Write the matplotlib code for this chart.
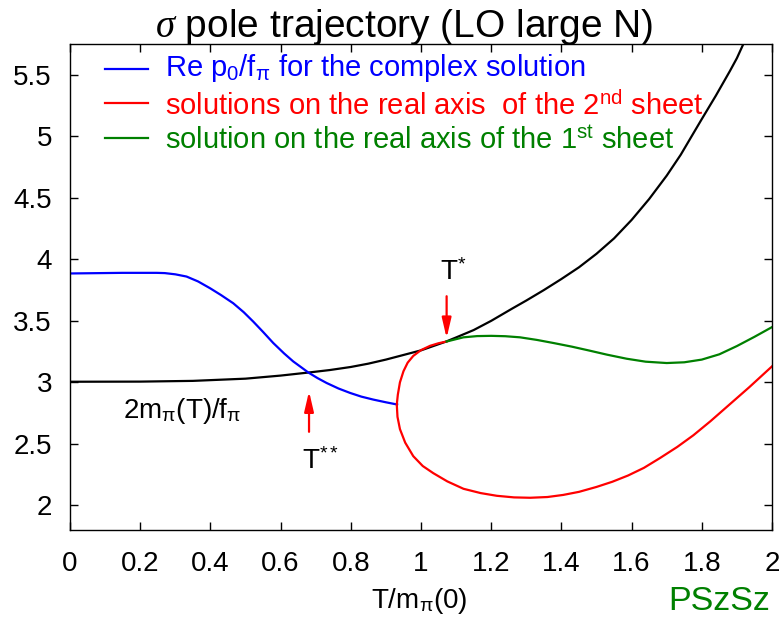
import matplotlib
matplotlib.use("Agg")
import matplotlib.pyplot as plt

# --- values ---
# 2 m_pi(T) / f_pi
t_black = [0.0, 0.2, 0.35, 0.5, 0.6, 0.68, 0.74, 0.8, 0.85, 0.9, 0.94, 1.0,
           1.03, 1.07, 1.1, 1.15, 1.2, 1.26, 1.3, 1.35, 1.4, 1.45, 1.5, 1.55,
           1.6, 1.65, 1.7, 1.74, 1.771, 1.8, 1.84, 1.88, 1.9, 1.92, 1.95]
v_black = [3.005, 3.006, 3.012, 3.03, 3.055, 3.08, 3.1, 3.125, 3.152, 3.185,
           3.215, 3.26, 3.29, 3.33, 3.365, 3.425, 3.5, 3.6, 3.665, 3.75,
           3.84, 3.935, 4.045, 4.17, 4.32, 4.49, 4.68, 4.85, 5.0, 5.14, 5.33,
           5.53, 5.635, 5.76, 5.95]

# Re p0/f_pi, complex solution
t_blue = [0.0, 0.15, 0.247, 0.27, 0.3, 0.332, 0.365, 0.399, 0.43, 0.465,
          0.495, 0.522, 0.55, 0.579, 0.61, 0.636, 0.66, 0.679, 0.705, 0.731,
          0.765, 0.798, 0.83, 0.864, 0.9, 0.932]
v_blue = [3.885, 3.89, 3.89, 3.888, 3.878, 3.86, 3.82, 3.765, 3.71, 3.643,
          3.57, 3.494, 3.41, 3.32, 3.235, 3.17, 3.12, 3.08, 3.035, 2.995,
          2.95, 2.914, 2.884, 2.86, 2.838, 2.82]

# real-axis solutions, 2nd sheet (loop traced from T* around)
t_red = [1.073, 1.05, 1.026, 1.0, 0.978, 0.962, 0.95, 0.94, 0.934, 0.931,
         0.933, 0.94, 0.955, 0.978, 1.005, 1.035, 1.075, 1.121, 1.17, 1.216,
         1.265, 1.311, 1.36, 1.405, 1.45, 1.5, 1.545, 1.59, 1.635, 1.681,
         1.73, 1.776, 1.825, 1.871, 1.935, 2.0]
v_red = [3.332, 3.318, 3.297, 3.262, 3.215, 3.16, 3.09, 3.0, 2.9, 2.82,
         2.72, 2.62, 2.51, 2.40, 2.32, 2.262, 2.195, 2.135, 2.1, 2.078,
         2.065, 2.062, 2.068, 2.085, 2.11, 2.15, 2.192, 2.243, 2.305, 2.385,
         2.475, 2.57, 2.685, 2.8, 2.96, 3.13]

# real-axis solution, 1st sheet
t_green = [1.073, 1.121, 1.16, 1.2, 1.24, 1.282, 1.33, 1.377, 1.43, 1.48,
           1.53, 1.586, 1.64, 1.7, 1.75, 1.8, 1.85, 1.9, 1.95, 2.0]
v_green = [3.332, 3.366, 3.376, 3.378, 3.375, 3.366, 3.345, 3.32, 3.29, 3.258,
           3.225, 3.192, 3.168, 3.157, 3.163, 3.185, 3.228, 3.295, 3.37, 3.449]

legend_labels = [
    r"Re p$_{\mathrm{0}}$/f$_{\mathrm{π}}$ for the complex solution",
    r"solutions on the real axis  of the 2$^{\mathrm{nd}}$ sheet",
    r"solution on the real axis of the 1$^{\mathrm{st}}$ sheet",
]

x_ticks = [0, 0.2, 0.4, 0.6, 0.8, 1.0, 1.2, 1.4, 1.6, 1.8, 2.0]
x_ticklabels = ["0", "0.2", "0.4", "0.6", "0.8", "1", "1.2", "1.4", "1.6", "1.8", "2"]
y_ticks = [2, 2.5, 3, 3.5, 4, 4.5, 5, 5.5]
y_ticklabels = ["2", "2.5", "3", "3.5", "4", "4.5", "5", "5.5"]

t_star = 1.073
t_star2 = 0.681

plt.rcParams["font.family"] = ["Liberation Sans", "DejaVu Sans"]
plt.rcParams["mathtext.fontset"] = "custom"
plt.rcParams["mathtext.rm"] = "Liberation Sans"
plt.rcParams["mathtext.it"] = "Liberation Serif:italic"
plt.rcParams["mathtext.bf"] = "Liberation Sans:bold"

W, H = 782, 619
fig = plt.figure(figsize=(W / 100, H / 100), dpi=100)
ax = fig.add_axes([70 / W, 1 - 530 / H, 702 / W, 486 / H])

blue = "#0000ff"
red = "#ff0000"
green = "#008000"

ax.plot(t_black, v_black, color="black", lw=1.6)
line_b, = ax.plot(t_blue, v_blue, color=blue, lw=1.6)
line_r, = ax.plot(t_red, v_red, color=red, lw=1.6)
line_g, = ax.plot(t_green, v_green, color=green, lw=1.6)

ax.set_xlim(0, 2)
ax.set_ylim(1.8, 5.75)
ax.set_xticks(x_ticks)
ax.set_xticklabels(x_ticklabels)
ax.set_yticks(y_ticks)
ax.set_yticklabels(y_ticklabels)
ax.tick_params(direction="in", length=6, width=1, top=True, right=True,
               labelsize=20, color="black")
ax.tick_params(axis="x", pad=15)
ax.tick_params(axis="y", pad=13)
for sp in ax.spines.values():
    sp.set_linewidth(1)

# legend drawn gnuplot style: short sample line, coloured text
rows_line = [(530 - 69) / 486, (530 - 103.3) / 486, (530 - 138.3) / 486]
rows_text = [(530 - 76) / 486, (530 - 115) / 486, (530 - 149.3) / 486]
for ln, lab, yl, yt in zip([line_b, line_r, line_g], legend_labels, rows_line, rows_text):
    ax.plot([0.0499, 0.111], [yl, yl], transform=ax.transAxes,
            color=ln.get_color(), lw=1.6)
    ax.text(0.1353, yt, lab, transform=ax.transAxes, color=ln.get_color(),
            fontsize=21, va="baseline", ha="left")

# arrows marking T* and T**
arrow = dict(arrowstyle="-|>,head_length=1.2,head_width=0.28", color=red,
             lw=1.6, shrinkA=0, shrinkB=0)
ax.annotate("", xy=(t_star, 3.36), xytext=(t_star, 3.70), arrowprops=arrow)
ax.annotate("", xy=(t_star2, 2.927), xytext=(t_star2, 2.598), arrowprops=arrow)

ax.text(1.054, 3.832, r"T$^{*}$", fontsize=20, va="baseline", ha="left")
ax.text(0.66, 2.293, r"T$^{**}$", fontsize=20, va="baseline", ha="left")
ax.text(0.152, 2.711, r"2m$_{\mathrm{π}}$(T)/f$_{\mathrm{π}}$", fontsize=20,
        va="baseline", ha="left")

ax.text((404.5 - 70) / 702, (530 - 36.7) / 486,
        r"$\sigma$ pole trajectory (LO large N)", transform=ax.transAxes,
        fontsize=28, ha="center", va="baseline")
ax.text((419 - 70) / 702, (530 - 608.3) / 486, r"T/m$_{\mathrm{π}}$(0)",
        transform=ax.transAxes, fontsize=20, ha="center", va="baseline")

fig.text(668 / W, 1 - 610 / H, "PSzSz", color=green, fontsize=24.5,
         ha="left", va="baseline")

fig.savefig("out.png", dpi=100)
